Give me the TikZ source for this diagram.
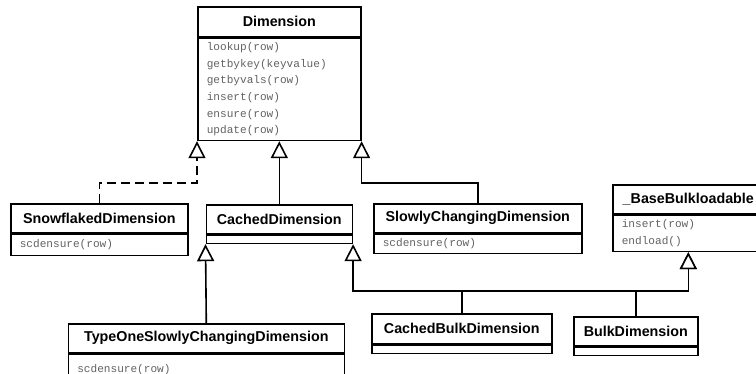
\documentclass[tikz,border=0pt]{standalone}
\usepackage{fontspec}
\setsansfont{Liberation Sans}
\setmonofont{Liberation Mono}
\usetikzlibrary{positioning, arrows.meta}

\begin{document}
\begin{tikzpicture}[x=1pt, y=-1pt,
	classname/.style={draw, line width=1.6pt, anchor=north west, inner sep=0pt,
		font=\sffamily\bfseries\fontsize{14.3}{17}\selectfont},
	classops/.style={draw, line width=1.6pt, inner xsep=9pt, inner ysep=0pt, align=left,
		text=black!62, font=\ttfamily\fontsize{11.1}{16.6}\selectfont},
	extends/.style={line width=1.6pt, -{Triangle[open, fill=white, length=17pt, width=17pt]}}]
	\useasboundingbox (0,0) rectangle (756,373);
	\clip (0,0) rectangle (756,373);
	% classes
	\node[classname, minimum width=163pt, minimum height=30pt] (dim) at (197,6) {Dimension};
	\node[classops, text width=145pt, minimum height=102pt, below=0pt of dim] (dimops)
		{lookup(row)\\getbykey(keyvalue)\\getbyvals(row)\\insert(row)\\ensure(row)\\update(row)};
	\node[classname, minimum width=177pt, minimum height=29pt] (snow) at (10,203) {SnowflakedDimension};
	\node[classops, text width=159pt, minimum height=21pt, below=0pt of snow] (snowops) {scdensure(row)};
	\node[classname, minimum width=146pt, minimum height=29pt] (cached) at (205.5,204) {CachedDimension};
	\node[classops, minimum width=146pt, minimum height=8pt, below=0pt of cached] (cachedops) {};
	\node[classname, minimum width=208pt, minimum height=29pt] (slowly) at (373,203) {SlowlyChangingDimension};
	\node[classops, text width=190pt, minimum height=19pt, below=0pt of slowly] (slowlyops) {scdensure(row)};
	\node[classname, minimum width=151pt, minimum height=29pt] (base) at (612,184) {\_BaseBulkloadable};
	\node[classops, text width=133pt, minimum height=36pt, below=0pt of base] (baseops) {insert(row)\\endload()};
	\node[classname, minimum width=276pt, minimum height=29pt] (typeone) at (67.5,323) {TypeOneSlowlyChangingDimension};
	\node[classops, text width=258pt, minimum height=30pt, below=0pt of typeone] (typeoneops) {scdensure(row)};
	\node[classname, minimum width=180pt, minimum height=30pt] (cbulk) at (371,313) {CachedBulkDimension};
	\node[classops, minimum width=180pt, minimum height=8pt, below=0pt of cbulk] (cbulkops) {};
	\node[classname, minimum width=124pt, minimum height=29pt] (bulk) at (573,316) {BulkDimension};
	\node[classops, minimum width=124pt, minimum height=8pt, below=0pt of bulk] (bulkops) {};
	% inheritance
	\coordinate (upbus) at (0,183);
	\coordinate (lowbus) at (0,291);
	\draw[extends, dash pattern=on 9pt off 5pt] (snow.north) -- (snow.north |- upbus) -| (dimops.south west);
	\draw[extends] (cached.north) -- (dimops.south);
	\draw[extends] (slowly.north) -- (slowly.north |- upbus) -| (dimops.south east);
	\draw[extends] (typeone.north) -- (cachedops.south west);
	\draw[extends] (cbulk.north) -- (cbulk.north |- lowbus) -| (cachedops.south east);
	\draw[extends] (cbulk.north) -- (cbulk.north |- lowbus) -| (baseops.south);
	\draw[extends] (bulk.north) -- (bulk.north |- lowbus) -| (baseops.south);
\end{tikzpicture}
\end{document}
